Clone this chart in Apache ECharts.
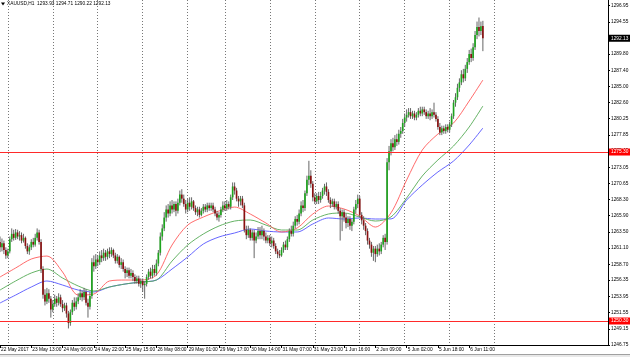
<!DOCTYPE html>
<html><head><meta charset="utf-8">
<script src="https://cdn.jsdelivr.net/npm/echarts@6/dist/echarts.min.js"></script>
<style>html,body{margin:0;padding:0;background:#fff}#c{width:630px;height:357px}</style>
</head><body><div id="c"></div>
<script>
const symbolName = 'XAUUSD,H1';
// trading sessions (day, first hour, last hour) -> hourly categories
const sessions = [['22 May',20,23],['23 May',1,23],['24 May',1,23],['25 May',1,23],['26 May',1,23],['29 May',1,19],
  ['30 May',1,23],['31 May',1,23],['1 Jun',1,23],['2 Jun',1,23],['5 Jun',1,23],['6 Jun',1,23],['7 Jun',1,23],['8 Jun',1,23],['9 Jun',1,23]];
const slotCount = 312;
const tickLabels = ['22 May 2017','23 May 13:00','24 May 06:00','24 May 22:00','25 May 15:00','26 May 08:00','29 May 01:00',
  '29 May 17:00','30 May 14:00','31 May 07:00','31 May 23:00','1 Jun 16:00','2 Jun 09:00','5 Jun 02:00','5 Jun 18:00','6 Jun 11:00'];
const labelEvery = 16;
const priceTicks = [1246.75,1249.15,1251.55,1253.95,1256.35,1258.70,1261.10,1263.50,1265.90,1268.30,1270.65,1273.05,
  1275.45,1277.85,1280.25,1282.60,1285.00,1287.40,1289.80,1294.55,1296.95];
const priceMin = 1246.75, priceMax = 1297.79;
const levels = [1275.30, 1250.30];
// [open, close, low, high]
const ohlc = [
[1262.0,1261.2,1260.5,1262.8],[1261.2,1261.8,1260.6,1262.5],[1261.8,1260.8,1260.2,1262.2],[1260.8,1260.0,1259.5,1261.2],
[1260.0,1260.6,1259.6,1261.0],[1260.6,1262.4,1260.3,1262.8],[1262.4,1263.2,1262.0,1264.0],[1263.2,1262.6,1262.2,1263.8],
[1262.6,1263.4,1262.3,1263.9],[1263.4,1262.8,1262.4,1263.8],[1262.8,1263.0,1262.2,1263.6],[1263.0,1262.2,1261.8,1263.4],
[1262.2,1262.6,1261.9,1263.2],[1262.6,1261.4,1261.0,1262.8],[1261.4,1260.6,1260.2,1261.8],[1260.6,1261.2,1260.1,1261.6],
[1261.2,1262.0,1260.8,1262.4],[1262.0,1261.6,1261.2,1262.6],[1261.6,1262.6,1261.3,1263.2],[1262.6,1263.4,1262.2,1264.0],
[1263.4,1262.0,1261.6,1263.8],[1262.0,1258.0,1257.4,1262.4],[1258.0,1254.2,1253.6,1258.4],[1254.2,1253.2,1252.6,1255.0],
[1253.2,1254.4,1252.8,1255.2],[1254.4,1253.6,1253.0,1255.0],[1253.6,1252.0,1250.8,1254.0],[1252.0,1252.8,1251.6,1253.4],
[1252.8,1253.6,1252.4,1254.2],[1253.6,1253.0,1252.4,1254.0],[1253.0,1253.8,1252.6,1254.4],[1253.8,1252.8,1252.4,1254.2],
[1252.8,1252.2,1251.6,1253.4],[1252.2,1252.6,1251.8,1253.0],[1252.6,1251.4,1250.8,1253.0],[1251.4,1250.0,1249.2,1251.8],
[1250.0,1251.6,1249.6,1252.0],[1251.6,1253.0,1251.2,1253.4],[1253.0,1252.4,1251.8,1253.8],[1252.4,1253.2,1252.0,1253.8],
[1253.2,1253.8,1252.8,1254.4],[1253.8,1254.4,1253.4,1255.0],[1254.4,1253.8,1253.2,1254.8],[1253.8,1254.6,1253.4,1255.2],
[1254.6,1253.0,1252.6,1255.0],[1253.0,1252.4,1250.8,1253.6],[1252.4,1254.0,1252.0,1254.6],[1254.0,1259.0,1253.6,1259.6],
[1259.0,1258.4,1257.6,1260.0],[1258.4,1259.4,1258.0,1260.2],[1259.4,1259.0,1258.4,1260.0],[1259.0,1260.0,1258.6,1260.6],
[1260.0,1259.6,1259.0,1260.8],[1259.6,1260.4,1259.2,1261.0],[1260.4,1259.8,1259.2,1260.8],[1259.8,1260.6,1259.4,1261.0],
[1260.6,1260.2,1259.6,1261.2],[1260.2,1260.8,1259.8,1261.2],[1260.8,1260.0,1259.6,1261.0],[1260.0,1259.2,1258.8,1260.4],
[1259.2,1259.8,1258.8,1260.2],[1259.8,1258.6,1258.2,1260.0],[1258.6,1259.0,1258.0,1259.6],[1259.0,1258.0,1257.6,1259.4],
[1258.0,1257.4,1256.6,1258.4],[1257.4,1257.8,1256.8,1258.2],[1257.8,1257.0,1256.6,1258.2],[1257.0,1257.4,1256.6,1258.0],
[1257.4,1256.8,1256.2,1257.8],[1256.8,1256.2,1255.8,1257.2],[1256.2,1256.6,1255.8,1257.0],[1256.6,1255.8,1255.4,1257.0],
[1255.8,1256.2,1255.2,1256.6],[1256.2,1255.6,1254.6,1256.6],[1255.6,1255.8,1253.6,1256.2],[1255.8,1256.8,1255.4,1257.2],
[1256.8,1257.6,1256.4,1258.0],[1257.6,1257.0,1256.6,1258.2],[1257.0,1258.0,1256.6,1258.6],[1258.0,1257.4,1257.0,1258.6],
[1257.4,1258.8,1257.0,1259.4],[1258.8,1260.4,1258.4,1260.8],[1260.4,1262.8,1260.0,1263.4],[1262.8,1264.0,1262.2,1264.6],
[1264.0,1265.6,1263.6,1266.4],[1265.6,1266.8,1265.0,1267.4],[1266.8,1266.2,1265.6,1267.6],[1266.2,1267.4,1265.8,1268.0],
[1267.4,1266.8,1266.2,1268.2],[1266.8,1267.6,1266.4,1268.0],[1267.6,1266.6,1265.8,1268.0],[1266.6,1267.8,1266.2,1268.4],
[1267.8,1269.0,1267.4,1269.6],[1269.0,1268.4,1267.8,1269.8],[1268.4,1267.6,1267.2,1269.0],[1267.6,1266.8,1266.2,1268.2],
[1266.8,1267.8,1266.4,1268.4],[1267.8,1267.2,1266.6,1268.6],[1267.2,1268.0,1266.8,1268.6],[1268.0,1267.0,1266.6,1268.2],
[1267.0,1266.4,1266.0,1267.4],[1266.4,1266.8,1265.8,1267.2],[1266.8,1266.0,1265.6,1267.2],[1266.0,1266.6,1265.8,1267.0],
[1266.6,1267.2,1266.2,1267.6],[1267.2,1266.8,1266.4,1267.6],[1266.8,1267.4,1266.4,1267.8],[1267.4,1267.0,1266.6,1267.8],
[1267.0,1267.4,1266.6,1267.8],[1267.4,1266.8,1266.4,1267.8],[1266.8,1266.2,1265.8,1267.2],[1266.2,1265.6,1265.2,1266.6],
[1265.6,1266.0,1265.0,1266.4],[1266.0,1266.8,1265.6,1267.2],[1266.8,1267.4,1266.4,1268.0],[1267.4,1267.0,1266.6,1268.0],
[1267.0,1267.6,1266.6,1268.2],[1267.6,1267.2,1266.8,1268.0],[1267.2,1268.6,1266.8,1269.0],[1268.6,1270.2,1268.2,1270.8],
[1270.2,1269.6,1269.0,1270.8],[1269.6,1268.4,1268.0,1270.0],[1268.4,1268.0,1267.2,1268.8],[1268.0,1268.4,1267.4,1268.8],
[1268.4,1267.4,1267.0,1268.8],[1267.4,1263.8,1263.4,1267.8],[1263.8,1263.0,1262.4,1264.4],[1263.0,1263.8,1262.6,1264.4],
[1263.8,1262.6,1262.2,1264.0],[1262.6,1263.4,1262.2,1263.8],[1263.4,1262.2,1259.6,1263.8],[1262.2,1262.8,1261.8,1263.4],
[1262.8,1263.6,1262.4,1264.2],[1263.6,1263.0,1262.4,1264.2],[1263.0,1263.6,1262.4,1264.4],[1263.6,1262.8,1262.2,1264.0],
[1262.8,1262.2,1261.8,1263.4],[1262.2,1262.6,1261.8,1263.0],[1262.6,1261.8,1261.4,1263.0],[1261.8,1262.2,1261.2,1262.8],
[1262.2,1261.4,1261.0,1262.6],[1261.4,1260.6,1260.2,1261.8],[1260.6,1260.2,1259.6,1261.0],[1260.2,1260.0,1259.6,1260.8],
[1260.0,1260.8,1259.8,1261.2],[1260.8,1261.6,1260.4,1262.0],[1261.6,1261.2,1260.8,1262.2],[1261.2,1262.4,1260.8,1262.8],
[1262.4,1263.6,1262.0,1264.0],[1263.6,1263.2,1262.8,1264.4],[1263.2,1264.4,1262.8,1265.0],[1264.4,1265.4,1264.0,1265.8],
[1265.4,1265.0,1264.4,1266.0],[1265.0,1266.2,1264.6,1266.8],[1266.2,1267.4,1265.8,1268.0],[1267.4,1267.0,1266.4,1268.2],
[1267.0,1269.2,1266.6,1269.6],[1269.2,1271.2,1268.8,1271.8],[1271.2,1271.8,1270.4,1274.0],[1271.8,1270.6,1270.0,1272.6],
[1270.6,1268.6,1268.0,1271.0],[1268.6,1268.0,1267.6,1269.2],[1268.0,1268.8,1267.6,1269.2],[1268.8,1268.2,1267.6,1269.4],
[1268.2,1268.8,1267.8,1269.4],[1268.8,1269.6,1268.4,1270.0],[1269.6,1270.2,1269.0,1270.6],[1270.2,1269.4,1268.8,1270.8],
[1269.4,1268.2,1267.8,1269.8],[1268.2,1267.6,1267.0,1268.6],[1267.6,1268.0,1267.2,1268.4],[1268.0,1267.2,1266.8,1268.4],
[1267.2,1267.6,1266.8,1268.0],[1267.6,1266.6,1266.2,1268.0],[1266.6,1265.8,1262.2,1267.0],[1265.8,1266.4,1263.6,1266.8],
[1266.4,1265.6,1265.0,1266.8],[1265.6,1264.8,1264.0,1266.2],[1264.8,1265.4,1264.2,1265.8],[1265.4,1264.4,1263.8,1265.8],
[1264.4,1265.0,1263.6,1265.4],[1265.0,1266.8,1264.6,1267.2],[1266.8,1267.6,1266.2,1268.2],[1267.6,1268.4,1267.0,1269.0],
[1268.4,1266.0,1265.6,1268.8],[1266.0,1265.2,1264.6,1266.4],[1265.2,1264.4,1263.8,1265.8],[1264.4,1263.6,1263.0,1264.8],
[1263.6,1262.2,1261.6,1264.0],[1262.2,1261.6,1261.0,1262.6],[1261.6,1260.4,1259.8,1262.0],[1260.4,1261.0,1259.2,1261.4],
[1261.0,1260.2,1259.0,1261.4],[1260.2,1261.0,1259.8,1261.6],[1261.0,1260.6,1260.0,1261.8],[1260.6,1261.6,1260.2,1262.0],
[1261.6,1262.6,1261.2,1263.0],[1262.6,1262.0,1260.8,1263.2],[1262.0,1273.8,1261.6,1274.4],[1273.8,1275.4,1272.6,1276.2],
[1275.4,1276.6,1274.8,1277.2],[1276.6,1276.0,1275.4,1277.4],[1276.0,1277.2,1275.6,1277.8],[1277.2,1276.8,1276.2,1278.0],
[1276.8,1278.0,1276.4,1278.6],[1278.0,1278.4,1277.4,1279.0],[1278.4,1279.6,1278.0,1280.2],[1279.6,1280.4,1279.0,1281.0],
[1280.4,1280.8,1279.8,1281.6],[1280.8,1281.2,1280.4,1281.8],[1281.2,1280.6,1280.2,1281.8],[1280.6,1281.0,1280.2,1281.4],
[1281.0,1280.4,1280.0,1281.4],[1280.4,1280.8,1280.0,1281.2],[1280.8,1281.4,1280.4,1281.8],[1281.4,1281.0,1280.6,1282.0],
[1281.0,1281.6,1280.6,1282.0],[1281.6,1281.2,1280.8,1282.0],[1281.2,1280.6,1280.2,1281.6],[1280.6,1281.0,1280.2,1281.4],
[1281.0,1280.6,1280.0,1281.8],[1280.6,1281.2,1280.2,1281.6],[1281.2,1280.8,1280.4,1282.6],[1280.8,1280.2,1279.8,1281.2],
[1280.2,1279.0,1278.6,1280.6],[1279.0,1278.2,1277.8,1279.6],[1278.2,1278.8,1277.8,1279.2],[1278.8,1278.4,1278.0,1279.2],
[1278.4,1279.0,1278.0,1279.4],[1279.0,1278.6,1278.2,1279.4],[1278.6,1279.4,1278.2,1279.8],[1279.4,1280.6,1279.0,1281.0],
[1280.6,1282.6,1280.2,1283.0],[1282.6,1283.4,1282.0,1284.0],[1283.4,1284.8,1283.0,1285.4],[1284.8,1285.6,1284.2,1286.2],
[1285.6,1286.8,1285.2,1287.4],[1286.8,1286.2,1285.6,1287.6],[1286.2,1287.6,1285.8,1288.2],[1287.6,1288.6,1287.0,1289.2],
[1288.6,1289.8,1288.2,1290.4],[1289.8,1289.2,1288.6,1290.6],[1289.2,1290.8,1288.8,1291.4],[1290.8,1292.6,1290.4,1293.2],
[1292.6,1293.8,1292.0,1294.6],[1293.8,1293.2,1292.4,1295.2],[1293.2,1293.9,1292.6,1294.6],[1293.93,1292.13,1290.22,1294.71]
];
// moving averages read at these bar indices
const maIndex = [0,8,16,24,32,40,48,56,64,72,80,88,96,104,112,120,128,136,144,152,160,168,176,184,192,200,208,216,224,232,240,247];
const maRed = [1256.81,1258.14,1259.47,1259.91,1257.55,1254.14,1254.29,1256.22,1256.36,1256.36,1257.10,1261.54,1264.50,1265.68,1266.57,1267.16,
  1266.13,1264.80,1263.47,1264.06,1266.13,1267.31,1266.87,1265.83,1264.20,1266.30,1271.16,1275.60,1277.96,1279.59,1282.85,1285.95];
const maGreen = [1254.88,1256.22,1257.40,1257.99,1256.66,1255.48,1254.74,1255.33,1255.77,1256.07,1256.36,1259.17,1261.54,1263.17,1264.35,1265.09,
  1265.24,1264.50,1263.76,1263.76,1265.24,1266.13,1266.28,1265.68,1265.09,1265.70,1268.50,1271.75,1274.12,1276.19,1279.00,1282.11];
const maBlue = [1252.96,1254.14,1255.33,1256.22,1255.62,1254.88,1254.59,1255.33,1255.77,1256.07,1256.36,1257.99,1259.77,1261.69,1262.73,1263.32,
  1263.91,1263.61,1263.47,1263.47,1264.65,1265.54,1265.39,1265.54,1265.39,1265.40,1268.20,1270.42,1272.35,1273.97,1276.34,1278.85];

// ---- build ----
const categories = [], dayStarts = [];
sessions.forEach(([d,a,b]) => { for (let h=a; h<=b; h++){ if (h===1) dayStarts.push(categories.length); categories.push(d+' '+String(h).padStart(2,'0')+':00'); } });
categories.length = slotCount;
const lastBar = ohlc.length - 1;
const gridIdx = dayStarts.filter(i => i <= lastBar);
const nextDay = dayStarts.find(i => i > lastBar); if (nextDay !== undefined) gridIdx.push(nextDay);
const gridSet = new Set(gridIdx);
const isLabelIdx = (i) => i % labelEvery === 0 && (i / labelEvery) < tickLabels.length;
const maSeries = (vals) => { const arr = new Array(ohlc.length).fill(null); maIndex.forEach((k,j)=>{arr[k]=vals[j];}); return arr; };
const last = ohlc[lastBar];
const FONT = 'Liberation Sans, Arial, sans-serif';
const FS = 4.8;

const chart = echarts.init(document.getElementById('c'), null, {renderer:'canvas'});
function renderCandle(params, api){
  const i = api.value(0), o = api.value(1), c = api.value(2), l = api.value(3), h = api.value(4);
  const pO = api.coord([i,o]), pC = api.coord([i,c]), pL = api.coord([i,l]), pH = api.coord([i,h]);
  const bw = api.size([1,0])[0] * 0.85;
  const top = Math.min(pO[1], pC[1]);
  const ht = Math.max(Math.abs(pO[1]-pC[1]), 0.8);
  return {type:'group', children:[
    {type:'line', shape:{x1:pH[0], y1:pH[1], x2:pL[0], y2:pL[1]}, style:{stroke:'#666666', lineWidth:1}},
    {type:'rect', shape:{x:pO[0]-bw/2, y:top, width:bw, height:ht}, style:{fill: c >= o ? '#1ea41e' : '#8a1010'}}
  ]};
}
const lbl = (bg, v) => ({show:true, position:'end', distance:1, formatter:()=>v.toFixed(2), backgroundColor:bg, color:'#fff',
  fontSize:FS, fontFamily:FONT, padding:[1,2,1,2]});
chart.setOption({
  animation:false,
  backgroundColor:'#ffffff',
  grid:{left:0, right:22, top:0, bottom:12, containLabel:false, outerBoundsMode:'none'},
  xAxis:{type:'category', data:categories, boundaryGap:false,
    axisLine:{show:true, onZero:false, lineStyle:{color:'#000', width:1}},
    axisTick:{show:true, interval:(i)=>isLabelIdx(i), length:3, lineStyle:{color:'#000'}},
    axisLabel:{interval:(i)=>isLabelIdx(i), formatter:(v,i)=>tickLabels[i/labelEvery] || '', align:'left', fontSize:FS,
      color:'#000', margin:2, fontFamily:FONT, padding:[0,0,0,1]},
    splitLine:{show:true, interval:(i)=>gridSet.has(i), lineStyle:{color:'#777', type:[1,2], width:1}}},
  yAxis:{type:'value', position:'right', min:priceMin, max:priceMax, scale:true,
    axisLine:{show:true, lineStyle:{color:'#000', width:1}},
    axisTick:{show:true, customValues:priceTicks, length:2, lineStyle:{color:'#000'}},
    axisLabel:{customValues:priceTicks, formatter:(v)=>v.toFixed(2), fontSize:FS, color:'#000', margin:3, fontFamily:FONT},
    splitLine:{show:false}},
  series:[
    {type:'line', name:'MA slow', data:maSeries(maBlue), connectNulls:true, showSymbol:false, smooth:0.3,
      lineStyle:{color:'#5555ff', width:0.9}, z:3},
    {type:'line', name:'MA mid', data:maSeries(maGreen), connectNulls:true, showSymbol:false, smooth:0.3,
      lineStyle:{color:'#55aa55', width:0.9}, z:3},
    {type:'line', name:'MA fast', data:maSeries(maRed), connectNulls:true, showSymbol:false, smooth:0.3,
      lineStyle:{color:'#ff5a5a', width:0.9}, z:3},
    {type:'custom', name:'XAUUSD', renderItem:renderCandle, clip:true, z:4,
      encode:{x:0, y:[1,2,3,4]}, data:ohlc.map((d,i)=>[i,d[0],d[1],d[2],d[3]]),
      markLine:{silent:true, symbol:['none','none'], animation:false,
        data:[
          ...levels.map(v=>({yAxis:v, lineStyle:{color:'#ff2a2a', width:1, type:'solid'}, label:lbl('#ff0000', v)})),
          {yAxis:last[1], lineStyle:{color:'rgba(0,0,0,0)', width:0.01}, label:lbl('#000000', last[1])}
        ]}}
  ],
  graphic:[
    {type:'polygon', shape:{points:[[1,2.5],[5,2.5],[3,5.5]]}, style:{fill:'#000'}},
    {type:'text', x:7, y:1.5, style:{text: symbolName+'  '+[last[0],last[3],last[2],last[1]].map(v=>v.toFixed(2)).join(' '),
      fontSize:FS, fontFamily:FONT, fill:'#000'}},
    {type:'rect', shape:{x:0, y:355, width:630, height:2}, style:{fill:'#e8e8e8'}},
    {type:'line', shape:{x1:0, y1:354.5, x2:630, y2:354.5}, style:{stroke:'#a0a0a0', lineWidth:1}}
  ]
});
</script></body></html>
